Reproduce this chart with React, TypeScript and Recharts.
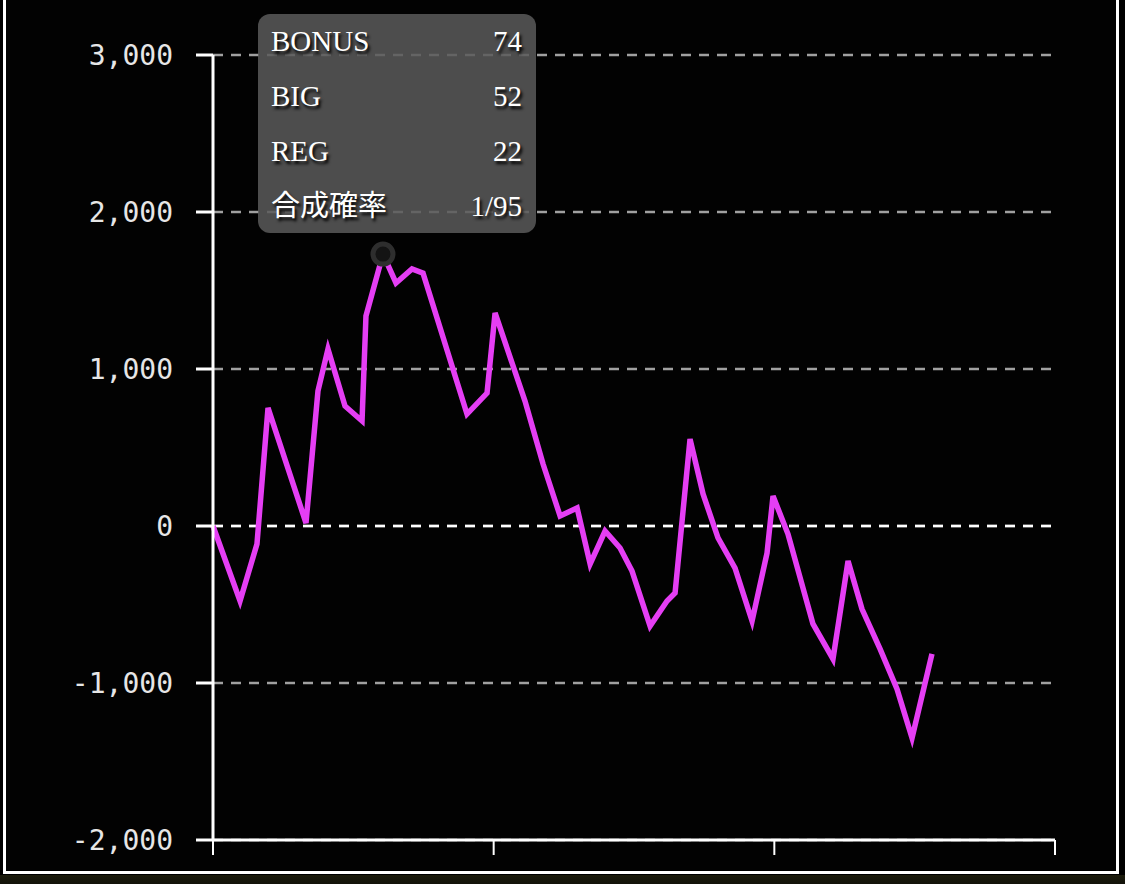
import React from 'react';
import { LineChart, Line, XAxis, YAxis, CartesianGrid, ReferenceLine, Tooltip } from 'recharts';

const games = [0, 289, 470, 588, 994, 1122, 1229, 1411, 1593, 1635, 1817, 1956, 2127, 2245, 2715, 2929, 3015, 3335, 3528, 3710, 3892, 4031, 4191, 4351, 4479, 4672, 4853, 4939, 5099, 5238, 5398, 5580, 5762, 5922, 5986, 6146, 6413, 6627, 6788, 6937, 7130, 7311, 7472, 7685];
const diff = [0, -478, -115, 752, 19, 860, 1127, 764, 669, 1338, 1732, 1548, 1637, 1611, 713, 847, 1357, 796, 395, 64, 115, -242, -32, -140, -287, -637, -478, -427, 554, 204, -76, -268, -605, -172, 191, -51, -624, -847, -223, -529, -783, -1038, -1350, -815];

const xTicks = [0, 3000, 6000, 9000];
const yTicks = [-2000, -1000, 0, 1000, 2000, 3000];

const tooltipLabels = ['BONUS', 'BIG', 'REG', '合成確率'];
const tooltipValues = ['74', '52', '22', '1/95'];
const activeIndex = 10;

const data = games.map((g, i) => ({ g, diff: diff[i] }));

const TipBox = () => (
  <div
    style={{
      width: 278,
      height: 219,
      boxSizing: 'border-box',
      background: 'rgba(90,90,90,0.86)',
      borderRadius: 12,
      padding: '11px 14px 0 13px',
      fontFamily: '"Liberation Serif", "Noto Sans CJK JP", serif',
      fontSize: 29,
      color: '#fff',
      textShadow: '2px 3px 3px #000',
    }}
  >
    {tooltipLabels.map((l, i) => (
      <div key={l} style={{ display: 'flex', justifyContent: 'space-between', height: 55, lineHeight: '33px' }}>
        <span>{l}</span>
        <span>{tooltipValues[i]}</span>
      </div>
    ))}
  </div>
);

const Ring = (props: any) => {
  const { cx, cy, index } = props;
  if (index !== activeIndex) return <g key={index} />;
  return <circle key={index} cx={cx} cy={cy} r={10} fill="#141414" stroke="#2e2e2e" strokeWidth={5} />;
};

export default function App() {
  return (
    <div style={{ position: 'absolute', left: 0, top: 0, width: 1125, height: 884, background: '#000', overflow: 'hidden' }}>
      <div style={{ position: 'absolute', left: 3, top: -10, width: 1116, height: 884, boxSizing: 'border-box', border: '3px solid #fff', background: '#020202' }} />
      <div style={{ position: 'absolute', left: 0, top: 875, width: 1125, height: 9, background: 'linear-gradient(#1c1c0c, #12120a)' }} />
      <div style={{ position: 'absolute', left: 0, top: 0 }}>
        <LineChart width={1125} height={884} data={data} margin={{ top: 55, right: 70, left: 0, bottom: 14 }}>
          <CartesianGrid vertical={false} stroke="#a0a0a0" strokeWidth={2.5} strokeDasharray="10 8" />
          <ReferenceLine y={0} stroke="#fff" strokeWidth={2.5} strokeDasharray="10 8" />
          <XAxis
            dataKey="g"
            type="number"
            domain={[0, 9000]}
            ticks={xTicks}
            height={30}
            tickSize={15}
            tickFormatter={() => ''}
            axisLine={{ stroke: '#fff', strokeWidth: 3 }}
            tickLine={{ stroke: '#fff', strokeWidth: 2 }}
          />
          <YAxis
            type="number"
            domain={[-2000, 3000]}
            ticks={yTicks}
            width={213}
            tickSize={17}
            tickMargin={23}
            tickFormatter={(v: number) => v.toLocaleString('en-US')}
            tick={{ fill: '#e6e6e6', fontSize: 28, fontFamily: '"DejaVu Sans Mono", monospace' }}
            axisLine={{ stroke: '#fff', strokeWidth: 3 }}
            tickLine={{ stroke: '#fff', strokeWidth: 3 }}
          />
          <Tooltip
            active
            defaultIndex={activeIndex}
            cursor={false}
            position={{ x: 258, y: 14 }}
            content={() => <TipBox />}
            wrapperStyle={{ outline: 'none' }}
            isAnimationActive={false}
          />
          <Line dataKey="diff" stroke="transparent" dot={Ring} activeDot={false} isAnimationActive={false} />
          <Line dataKey="diff" type="linear" stroke="#e53ef4" strokeWidth={5.5} strokeLinejoin="miter" dot={false} activeDot={false} isAnimationActive={false} />
        </LineChart>
      </div>
    </div>
  );
}
